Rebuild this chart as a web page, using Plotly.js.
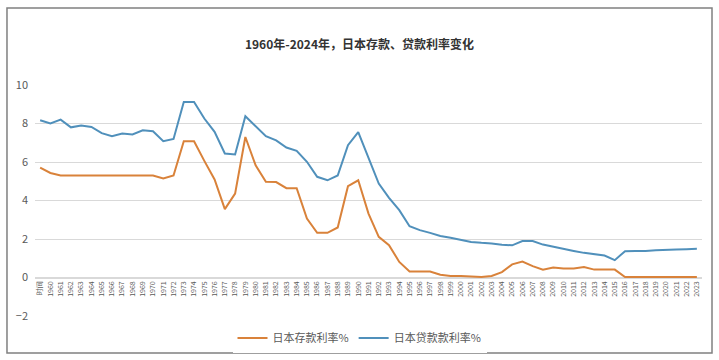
<!DOCTYPE html>
<html>
<head>
<meta charset="utf-8">
<script src="https://cdn.plot.ly/plotly-3.0.1.min.js"></script>
<style>
html,body{margin:0;padding:0;background:#fff;}
#chart{width:719px;height:360px;}
</style>
</head>
<body>
<div id="chart"></div>
<script>
const categories = ["时间","1960","1961","1962","1963","1964","1965","1966","1967","1968","1969",
  "1970","1971","1972","1973","1974","1975","1976","1977","1978","1979",
  "1980","1981","1982","1983","1984","1985","1986","1987","1988","1989",
  "1990","1991","1992","1993","1994","1995","1996","1997","1998","1999",
  "2000","2001","2002","2003","2004","2005","2006","2007","2008","2009",
  "2010","2011","2012","2013","2014","2015","2016","2017","2018","2019",
  "2020","2021","2022","2023"];

const depositRate = [5.71,5.43,5.3,5.3,5.3,5.3,5.3,5.3,5.3,5.3,
  5.3,5.3,5.14,5.3,7.08,7.08,6.06,5.09,3.55,4.36,
  7.3,5.83,4.97,4.96,4.64,4.64,3.06,2.32,2.32,2.6,
  4.74,5.05,3.32,2.11,1.68,0.81,0.31,0.31,0.31,0.14,
  0.08,0.08,0.05,0.03,0.08,0.28,0.68,0.83,0.59,0.41,
  0.52,0.47,0.47,0.55,0.41,0.41,0.41,0.02,0.02,0.02,
  0.02,0.02,0.02,0.02,0.02];

const loanRate = [8.17,8.0,8.2,7.8,7.9,7.82,7.5,7.34,7.48,7.43,
  7.65,7.6,7.08,7.2,9.12,9.12,8.26,7.57,6.44,6.39,
  8.38,7.86,7.34,7.12,6.75,6.58,6.01,5.23,5.05,5.3,
  6.87,7.55,6.18,4.88,4.14,3.5,2.66,2.46,2.32,2.16,
  2.06,1.95,1.85,1.8,1.77,1.7,1.67,1.89,1.89,1.71,
  1.59,1.49,1.38,1.28,1.21,1.14,0.9,1.37,1.38,1.38,
  1.42,1.42,1.45,1.47,1.49];

const seriesNames = ["日本存款利率%", "日本贷款款利率%"];
const titleText = "1960年-2024年，日本存款、贷款利率变化";

const font = '"Noto Sans CJK SC", "Noto Sans", sans-serif';

const traces = [
  {x: categories, y: depositRate, type: 'scatter', mode: 'lines', name: seriesNames[0],
   line: {color: '#d9823a', width: 2}},
  {x: categories, y: loanRate, type: 'scatter', mode: 'lines', name: seriesNames[1],
   line: {color: '#5090bb', width: 2}}
];

const layout = {
  width: 719, height: 360,
  margin: {l: 35, r: 17, t: 85, b: 44},
  paper_bgcolor: '#ffffff', plot_bgcolor: '#ffffff',
  font: {family: font, color: '#595959'},
  title: {text: titleText, x: 0.5, xanchor: 'center', y: 0.875, yanchor: 'middle',
          font: {family: font, size: 12, color: '#333333', weight: 'bold'}},
  xaxis: {type: 'category', categoryorder: 'array', categoryarray: categories,
          range: [-0.5, categories.length - 0.5],
          anchor: 'free', position: 2/12,
          showline: true, linecolor: '#d9d9d9', linewidth: 1,
          showgrid: false, ticks: '', tickangle: -90,
          tickfont: {size: 7, color: '#595959'}, automargin: false},
  yaxis: {range: [-2, 10], dtick: 2, showgrid: true, gridcolor: '#d9d9d9', gridwidth: 1,
          zeroline: false, showline: false, ticks: '',
          tickfont: {size: 11, color: '#595959'}, ticklabelstandoff: 6, automargin: false},
  showlegend: true,
  legend: {orientation: 'h', xref: 'container', yref: 'container',
           x: 0.5, xanchor: 'center', y: 1 - 338/360, yanchor: 'middle',
           font: {size: 11, color: '#595959'}, itemwidth: 30, tracegroupgap: 0},
  shapes: [
    {type: 'rect', xref: 'paper', yref: 'paper', x0: -0.042, x1: 1.015, y0: -0.160, y1: 1.333,
     line: {color: '#808080', width: 1.5}, fillcolor: 'rgba(0,0,0,0)', layer: 'below'}
  ]
};

Plotly.newPlot('chart', traces, layout, {displayModeBar: false, staticPlot: true});
</script>
</body>
</html>
